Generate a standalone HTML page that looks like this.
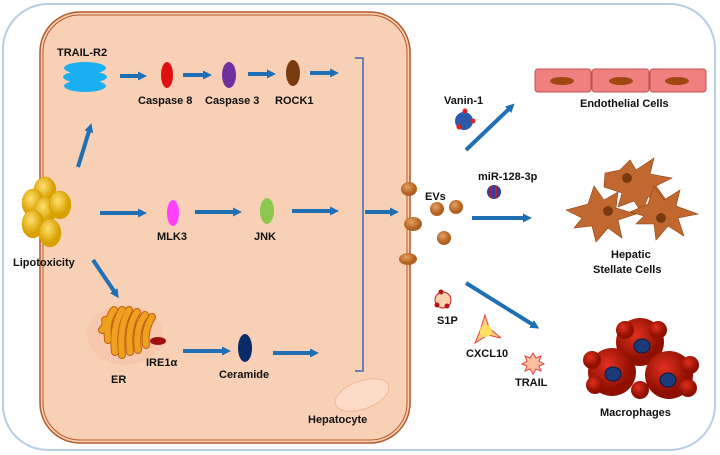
<!DOCTYPE html>
<html><head><style>body{margin:0;background:#fff}svg{display:block}text{font-family:"Liberation Sans",sans-serif;font-weight:bold;font-size:11px;fill:#111}</style></head><body>
<svg width="720" height="455" viewBox="0 0 720 455" xmlns="http://www.w3.org/2000/svg">
<defs>
<marker id="a" markerWidth="9" markerHeight="9" refX="4" refY="4.5" orient="auto" markerUnits="userSpaceOnUse"><path d="M0,0L9,4.5L0,9z" fill="#1f6fb5"/></marker>
<radialGradient id="y" cx="40%" cy="35%"><stop offset="0" stop-color="#ffe070"/><stop offset="1" stop-color="#d9a000"/></radialGradient>
<radialGradient id="b" cx="40%" cy="35%"><stop offset="0" stop-color="#e8a060"/><stop offset="1" stop-color="#b06020"/></radialGradient>
<radialGradient id="m" cx="40%" cy="35%"><stop offset="0" stop-color="#e03020"/><stop offset="1" stop-color="#901000"/></radialGradient>
</defs>
<rect x="3" y="4" width="712" height="446" rx="45" fill="#fff" stroke="#b8cce4" stroke-width="2"/>
<rect x="40" y="12" width="370" height="431" rx="40" fill="#f8d0b6" stroke="#b5582a" stroke-width="1.5"/>
<rect x="43" y="15" width="364" height="425" rx="37" fill="none" stroke="#b5582a" stroke-width="1"/>
<g stroke="#1f6fb5" stroke-width="4" marker-end="url(#a)" fill="none">
<line x1="120" y1="76" x2="142" y2="76"/><line x1="183" y1="75" x2="207" y2="75"/><line x1="248" y1="74" x2="271" y2="74"/><line x1="310" y1="73" x2="334" y2="73"/>
<line x1="78" y1="167" x2="90" y2="128"/>
<line x1="100" y1="213" x2="142" y2="213"/><line x1="195" y1="212" x2="237" y2="212"/><line x1="292" y1="211" x2="334" y2="211"/>
<line x1="93" y1="260" x2="116" y2="294"/>
<line x1="183" y1="351" x2="226" y2="351"/><line x1="273" y1="353" x2="314" y2="353"/>
<line x1="365" y1="212" x2="394" y2="212"/>
<line x1="466" y1="150" x2="511" y2="107"/>
<line x1="472" y1="218" x2="527" y2="218"/>
<line x1="466" y1="283" x2="535" y2="326"/>
</g>
<path d="M355,58H363V371H355" fill="none" stroke="#5a7ab5" stroke-width="1.8"/>
<text x="57" y="56">TRAIL-R2</text>
<g fill="#1ab0f0"><ellipse cx="85" cy="68" rx="21" ry="6"/><ellipse cx="85" cy="77" rx="22" ry="6"/><ellipse cx="85" cy="86" rx="21" ry="6"/></g>
<ellipse cx="167" cy="75" rx="6" ry="13" fill="#e01010"/>
<ellipse cx="229" cy="75" rx="7" ry="13" fill="#7030a0"/>
<ellipse cx="293" cy="73" rx="7" ry="13" fill="#7a3a10"/>
<text x="138" y="104">Caspase 8</text><text x="205" y="104">Caspase 3</text><text x="275" y="104">ROCK1</text>
<g fill="url(#y)" stroke="#d9a000" stroke-width=".5"><ellipse cx="45" cy="190" rx="11" ry="13"/><ellipse cx="33" cy="203" rx="11" ry="14"/><ellipse cx="45" cy="211" rx="11" ry="14"/><ellipse cx="60" cy="205" rx="11" ry="14"/><ellipse cx="33" cy="224" rx="11" ry="14"/><ellipse cx="50" cy="233" rx="11" ry="14"/></g>
<text x="13" y="266">Lipotoxicity</text>
<ellipse cx="173" cy="213" rx="6" ry="13" fill="#ff40ff"/><ellipse cx="267" cy="211" rx="7" ry="13" fill="#8cc850"/>
<text x="157" y="240">MLK3</text><text x="254" y="240">JNK</text>
<ellipse cx="125" cy="335" rx="38" ry="30" fill="#f6bfa2" opacity=".45"/>
<g stroke="#c06010" stroke-width="8" stroke-linecap="round" fill="none"><path d="M102,330q5,-5 3,-10"/><path d="M108,340q-2,-20 6,-30"/><path d="M115,352q-3,-25 7,-42"/><path d="M122,355q-3,-28 7,-45"/><path d="M130,352q-3,-25 7,-40"/><path d="M138,350q-3,-22 7,-35"/><path d="M146,345q-2,-15 6,-28"/></g>
<g stroke="#f0a020" stroke-width="6" stroke-linecap="round" fill="none" stroke-dasharray="4 1"><path d="M102,330q5,-5 3,-10"/><path d="M108,340q-2,-20 6,-30"/><path d="M115,352q-3,-25 7,-42"/><path d="M122,355q-3,-28 7,-45"/><path d="M130,352q-3,-25 7,-40"/><path d="M138,350q-3,-22 7,-35"/><path d="M146,345q-2,-15 6,-28"/></g>
<ellipse cx="158" cy="341" rx="8" ry="4" fill="#a01010"/>
<text x="146" y="366">IRE1α</text><text x="111" y="383">ER</text>
<ellipse cx="245" cy="348" rx="7" ry="14" fill="#0a2a6a"/>
<text x="219" y="378">Ceramide</text>
<ellipse cx="362" cy="395" rx="28" ry="14" fill="#fcdcc8" stroke="#f0b896" transform="rotate(-20 362 395)"/>
<text x="308" y="423">Hepatocyte</text>
<g fill="url(#b)"><ellipse cx="409" cy="189" rx="8" ry="7"/><ellipse cx="413" cy="224" rx="9" ry="7"/><ellipse cx="408" cy="259" rx="9" ry="6"/><circle cx="437" cy="209" r="7"/><circle cx="456" cy="207" r="7"/><circle cx="444" cy="238" r="7"/></g>
<text x="425" y="200">EVs</text>
<text x="444" y="104">Vanin-1</text>
<circle cx="464" cy="121" r="9" fill="#2a5aa8"/><g fill="#e02020"><circle cx="465" cy="111" r="2.5"/><circle cx="459" cy="127" r="2.5"/><circle cx="473" cy="121" r="2.5"/></g>
<text x="478" y="180">miR-128-3p</text>
<circle cx="494" cy="192" r="7" fill="#3a3a9a"/><path d="M491,186v12M496,186v12" stroke="#d02020" stroke-width="1.5"/>
<g fill="#f08080" stroke="#c05050"><rect x="535" y="69" width="56" height="23" rx="3"/><rect x="592" y="69" width="57" height="23" rx="3"/><rect x="650" y="69" width="56" height="23" rx="3"/></g>
<g fill="#a04810"><ellipse cx="562" cy="81" rx="12" ry="4"/><ellipse cx="621" cy="81" rx="12" ry="4"/><ellipse cx="677" cy="81" rx="12" ry="4"/></g>
<text x="580" y="107">Endothelial Cells</text>
<g fill="#c06830" stroke="#904010" stroke-width=".6">
<path d="M605,173l15,-3l10,-10l6,10l18,-12l-4,16l22,4l-16,8l10,14l-18,-3l-6,16l-8,-12l-16,6l4,-14l-18,-6z"/>
<path d="M566,210l22,-6l6,-18l10,14l14,-8l-2,16l20,6l-18,6l4,18l-14,-10l-12,14l-4,-16l-18,2l8,-10z"/>
<path d="M630,212l18,-8l6,-18l10,14l16,-10l-4,16l22,8l-20,4l6,18l-16,-10l-12,14l-2,-16l-18,0l8,-8z"/>
</g>
<g fill="#7a3a10"><circle cx="627" cy="178" r="5"/><circle cx="608" cy="211" r="5"/><circle cx="661" cy="218" r="5"/></g>
<text x="611" y="258">Hepatic</text><text x="593" y="273">Stellate Cells</text>
<circle cx="443" cy="300" r="8" fill="#fcd0b0" stroke="#c02020"/><g fill="#c01010"><circle cx="441" cy="292" r="2.5"/><circle cx="437" cy="305" r="2.5"/><circle cx="447" cy="306" r="2.5"/></g>
<text x="437" y="324">S1P</text>
<path d="M485,315l4,13l12,10l-13,-3l-13,8l5,-12z" fill="#fcd080" stroke="#e04040"/><circle cx="486" cy="331" r="6" fill="#ffe060"/>
<text x="466" y="357">CXCL10</text>
<path d="M533,353l3,5l5,-2l-2,5l5,3l-5,2l2,5l-5,-2l-3,5l-3,-5l-5,2l2,-5l-5,-2l5,-3l-2,-5l5,2z" fill="#fcc0a0" stroke="#e04040"/>
<text x="515" y="386">TRAIL</text>
<g fill="url(#m)"><circle cx="640" cy="342" r="24"/><circle cx="612" cy="372" r="24"/><circle cx="669" cy="375" r="24"/>
<circle cx="625" cy="330" r="9"/><circle cx="658" cy="330" r="9"/><circle cx="592" cy="360" r="9"/><circle cx="595" cy="385" r="9"/><circle cx="690" cy="365" r="9"/><circle cx="688" cy="388" r="9"/><circle cx="640" cy="390" r="9"/></g>
<g fill="#1a3a7a" stroke="#0a1a40"><ellipse cx="642" cy="346" rx="8" ry="7"/><ellipse cx="613" cy="374" rx="8" ry="7"/><ellipse cx="668" cy="380" rx="8" ry="7"/></g>
<text x="600" y="416">Macrophages</text>
</svg>
</body></html>
